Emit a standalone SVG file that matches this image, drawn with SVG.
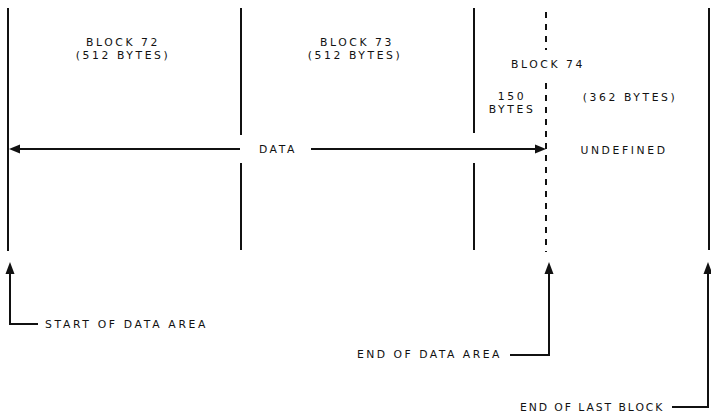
<svg xmlns="http://www.w3.org/2000/svg" width="711" height="415" viewBox="0 0 711 415">
<style>
.ln{stroke:#111;stroke-width:2;fill:none}
.dash{stroke:#111;stroke-width:2;fill:none;stroke-dasharray:6 6}
.t{font-family:"DejaVu Sans","Liberation Sans",sans-serif;font-size:10.8px;fill:#111;letter-spacing:2.6px}
.ah{fill:#111}
</style>
<rect width="711" height="415" fill="#fff"/>
<g id="boundaries">
<line class="ln" x1="8" y1="8" x2="8" y2="251"/>
<line class="ln" x1="241" y1="8" x2="241" y2="135"/>
<line class="ln" x1="241" y1="163" x2="241" y2="250"/>
<line class="ln" x1="474" y1="8" x2="474" y2="133"/>
<line class="ln" x1="474" y1="163" x2="474" y2="250"/>
<line class="dash" x1="546" y1="12" x2="546" y2="50"/>
<line class="dash" x1="546" y1="83" x2="546" y2="252"/>
<line class="ln" x1="709" y1="8" x2="709" y2="250"/>
</g>
<g id="block72">
<text class="t" x="123" y="46" text-anchor="middle">BLOCK 72</text>
<text class="t" x="123" y="59" text-anchor="middle">(512 BYTES)</text>
</g>
<g id="block73">
<text class="t" x="357" y="46" text-anchor="middle">BLOCK 73</text>
<text class="t" x="355" y="59" text-anchor="middle">(512 BYTES)</text>
</g>
<g id="block74">
<text class="t" x="548" y="68" text-anchor="middle">BLOCK 74</text>
<text class="t" x="512" y="100" text-anchor="middle">150</text>
<text class="t" x="512" y="113" text-anchor="middle">BYTES</text>
<text class="t" x="630" y="101" text-anchor="middle">(362 BYTES)</text>
<text class="t" x="624" y="154" text-anchor="middle">UNDEFINED</text>
</g>
<g id="data">
<text class="t" x="278" y="153" text-anchor="middle">DATA</text>
</g>
<g id="connectors">
<line class="ln" x1="18" y1="149" x2="240" y2="149"/>
<polygon class="ah" points="9,149 20,144.5 20,153.5"/>
<line class="ln" x1="311" y1="149" x2="536" y2="149"/>
<polygon class="ah" points="546,149 535,144.5 535,153.5"/>
<polyline class="ln" points="10,272 10,324 38,324"/>
<polygon class="ah" points="10,262 5.5,274 14.5,274"/>
<polyline class="ln" points="549,272 549,355 510,355"/>
<polygon class="ah" points="549,262 544.5,274 553.5,274"/>
<polyline class="ln" points="708,272 708,407 672,407"/>
<polygon class="ah" points="708,262 703.5,274 712.5,274"/>
</g>
<g id="labels">
<text class="t" x="45" y="328" textLength="163" lengthAdjust="spacing">START OF DATA AREA</text>
<text class="t" x="357" y="358" textLength="145" lengthAdjust="spacing">END OF DATA AREA</text>
<text class="t" x="520" y="411" textLength="145" lengthAdjust="spacing">END OF LAST BLOCK</text>
</g>
</svg>
